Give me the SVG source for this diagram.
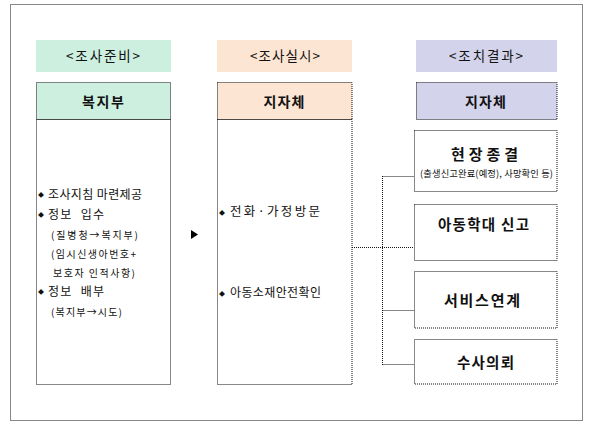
<svg xmlns="http://www.w3.org/2000/svg" width="594" height="430" viewBox="0 0 594 430">
<style>
.dot{fill:none;stroke:#111;stroke-width:1;stroke-dasharray:1 1}
.t{font-family:"Noto Sans CJK KR","Noto Sans",sans-serif;fill:#111}
.hd{font-size:13.5px}
.ti{font-size:14px;font-weight:bold}
.it{font-size:12px}
.sb{font-size:10px}
.bu{font-size:6px}
.rb{font-size:14.5px;font-weight:bold}
</style>
<rect width="594" height="430" fill="#fff"/>
<rect class="dot" x="10.5" y="4.5" width="572" height="416"/>

<g id="prep">
<rect x="36" y="40" width="135" height="32" fill="#ccefdf"/>
<text class="t hd" x="66" y="61" textLength="74" lengthAdjust="spacing">&lt;조사준비&gt;</text>
<rect class="dot" x="36.5" y="82.5" width="134" height="37" style="fill:#ccefdf"/>
<text class="t ti" x="82" y="106.5" textLength="42" lengthAdjust="spacing">복지부</text>
<rect class="dot" x="36.5" y="119.5" width="134" height="265"/>
<text class="t bu" x="38" y="197">◆</text>
<text class="t it" x="48" y="198.5" textLength="94" lengthAdjust="spacing">조사지침 마련제공</text>
<text class="t bu" x="38" y="217">◆</text>
<text class="t it" x="48" y="218.5" textLength="56" lengthAdjust="spacing" xml:space="preserve">정보  입수</text>
<text class="t sb" x="51" y="238.5" textLength="87" lengthAdjust="spacing">(질병청→복지부)</text>
<text class="t sb" x="51" y="257.5" textLength="85" lengthAdjust="spacing">(임시신생아번호+</text>
<text class="t sb" x="53" y="276.5" textLength="82" lengthAdjust="spacing">보호자 인적사항)</text>
<text class="t bu" x="38" y="294">◆</text>
<text class="t it" x="48" y="295.5" textLength="56" lengthAdjust="spacing" xml:space="preserve">정보  배부</text>
<text class="t sb" x="51" y="316" textLength="71" lengthAdjust="spacing">(복지부→시도)</text>
</g>

<polygon points="191,230 198,234.5 191,239" fill="#000"/>

<g id="exec">
<rect x="217" y="40" width="135" height="32" fill="#fde5d3"/>
<text class="t hd" x="250" y="61" textLength="70" lengthAdjust="spacing">&lt;조사실시&gt;</text>
<rect class="dot" x="217.5" y="82.5" width="134.5" height="37" style="fill:#fde5d3"/>
<text class="t ti" x="263.5" y="106.5" textLength="41" lengthAdjust="spacing">지자체</text>
<rect class="dot" x="217.5" y="119.5" width="134.5" height="265"/>
<text class="t bu" x="219" y="214.5">◆</text>
<text class="t" x="230" y="216" font-size="12.5" textLength="90" lengthAdjust="spacing">전화·가정방문</text>
<text class="t bu" x="219" y="295.5">◆</text>
<text class="t it" x="230" y="297" textLength="91" lengthAdjust="spacing">아동소재안전확인</text>
</g>

<g id="result">
<rect x="416" y="40" width="141" height="32" fill="#d3d3eb"/>
<text class="t hd" x="449" y="61" textLength="74" lengthAdjust="spacing">&lt;조치결과&gt;</text>
<rect class="dot" x="416.5" y="82.5" width="140.5" height="37" style="fill:#d3d3eb"/>
<text class="t ti" x="465" y="106.5" textLength="41" lengthAdjust="spacing">지자체</text>
</g>

<g id="r1">
<rect class="dot" x="414.5" y="130.5" width="142.5" height="61"/>
<text class="t" x="451" y="159.5" font-size="15" font-weight="bold" textLength="67" lengthAdjust="spacing">현장종결</text>
<text class="t" x="420" y="176.5" font-size="9.3" textLength="133" lengthAdjust="spacing">(출생신고완료(예정), 사망확인 등)</text>
</g>
<g id="r2">
<rect class="dot" x="414.5" y="204.5" width="142.5" height="56"/>
<text class="t rb" x="438" y="229.5" textLength="91" lengthAdjust="spacing">아동학대 신고</text>
</g>
<g id="r3">
<rect class="dot" x="414.5" y="271.5" width="142.5" height="56.5"/>
<text class="t" x="444" y="306" font-size="15" font-weight="bold" textLength="76" lengthAdjust="spacing">서비스연계</text>
</g>
<g id="r4">
<rect class="dot" x="414.5" y="339.5" width="142.5" height="44.5"/>
<text class="t rb" x="457" y="367.5" textLength="57" lengthAdjust="spacing">수사의뢰</text>
</g>

<g id="connectors" class="dot">
<path d="M352 247.5H414"/>
<path d="M382.5 176V365"/>
<path d="M382.5 176.5H414"/>
<path d="M382.5 310.5H414"/>
<path d="M382.5 364.5H414"/>
</g>
</svg>
